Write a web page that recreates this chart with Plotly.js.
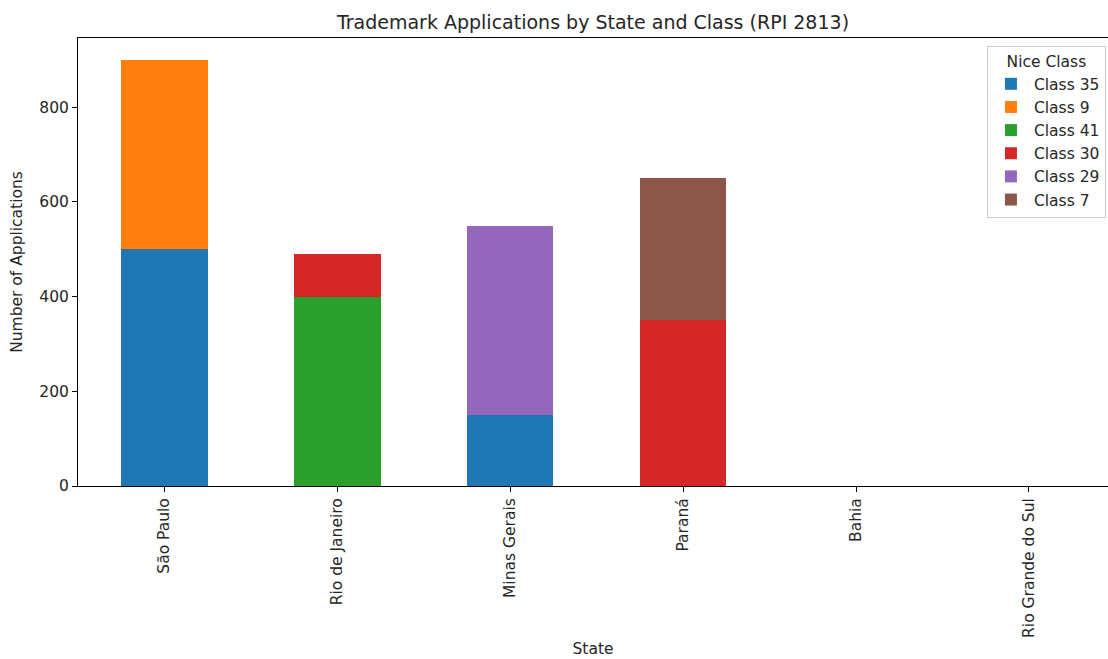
<!DOCTYPE html>
<html>
<head>
<meta charset="utf-8">
<script src="https://cdn.plot.ly/plotly-3.0.1.min.js"></script>
<style>body{margin:0;padding:0;background:#fff;}#chart{width:1108px;height:659px;}</style>
</head>
<body>
<div id="chart"></div>
<script>
const states = ["São Paulo", "Rio de Janeiro", "Minas Gerais", "Paraná", "Bahia", "Rio Grande do Sul"];
const classNames = ["Class 35", "Class 9", "Class 41", "Class 30", "Class 29", "Class 7"];
const class35 = [500, 0, 150, 0, 0, 0];
const class9  = [400, 0, 0, 0, 0, 0];
const class41 = [0, 400, 0, 0, 0, 0];
const class30 = [0, 90, 0, 350, 0, 0];
const class29 = [0, 0, 400, 0, 0, 0];
const class7  = [0, 0, 0, 300, 0, 0];
const yTicks = [0, 200, 400, 600, 800];

const seriesValues = [class35, class9, class41, class30, class29, class7];
const colors = ["#1f77b4", "#ff7f0e", "#2ca02c", "#d62728", "#9467bd", "#8c564b"];

const traces = classNames.map((name, i) => ({
  type: "bar",
  name: name,
  legendgroup: "g" + i,
  x: states.map((s, k) => k),
  y: seriesValues[i],
  marker: {color: colors[i], line: {width: 0}},
  hoverinfo: "name+y"
}));

const small = 15.5;

const layout = {
  width: 1108,
  height: 659,
  margin: {l: 78, r: 0, t: 38, b: 173},
  paper_bgcolor: "#ffffff",
  plot_bgcolor: "#ffffff",
  barmode: "stack",
  bargap: 0.5,
  font: {family: "DejaVu Sans, sans-serif", size: small, color: "#262626"},
  title: {
    text: "Trademark Applications by State and Class (RPI 2813)",
    font: {size: 19, color: "#262626"},
    x: 0.5, xref: "paper", xanchor: "center",
    y: 1 - 22/659, yref: "container", yanchor: "middle"
  },
  xaxis: {
    range: [-0.5, 5.457],
    tickmode: "array",
    tickvals: states.map((s, k) => k),
    ticktext: states,
    tickangle: -90,
    ticks: "outside",
    ticklen: 5,
    tickcolor: "#000",
    showline: true,
    linecolor: "#000",
    linewidth: 1,
    mirror: true,
    showgrid: false,
    zeroline: false,
    tickfont: {size: small},
    title: {text: "State", font: {size: small}, standoff: 6}
  },
  yaxis: {
    range: [0, 946],
    tickmode: "array",
    tickvals: yTicks,
    ticktext: yTicks.map(String),
    ticks: "outside",
    ticklen: 5,
    tickcolor: "#000",
    showline: true,
    linecolor: "#000",
    linewidth: 1,
    showgrid: false,
    zeroline: false,
    tickfont: {size: small},
    title: {text: "Number of Applications", font: {size: small}, standoff: 12}
  },
  showlegend: true,
  legend: {
    x: 0.998, xanchor: "right",
    y: 0.982, yanchor: "top",
    bgcolor: "rgba(255,255,255,0.8)",
    bordercolor: "#cccccc",
    borderwidth: 1,
    font: {size: small},
    title: {text: "Nice Class", side: "top center", font: {size: small}},
    traceorder: "grouped",
    tracegroupgap: 0,
    itemwidth: 36
  }
};

Plotly.newPlot("chart", traces, layout, {displayModeBar: false, staticPlot: true});
</script>
</body>
</html>
